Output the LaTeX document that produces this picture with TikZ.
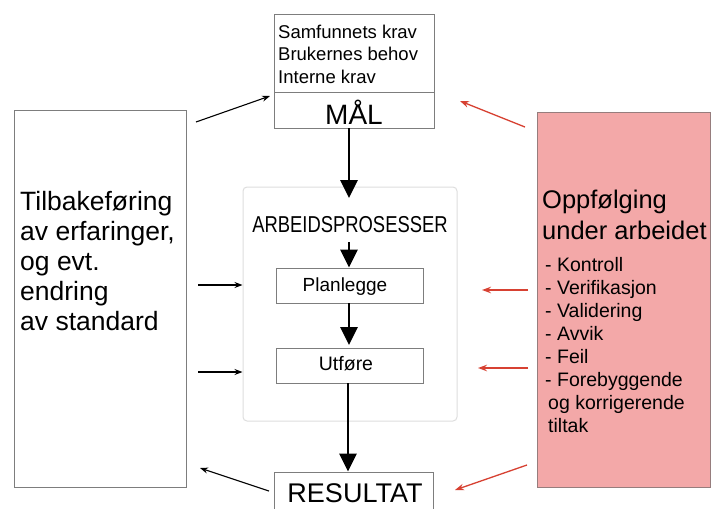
\documentclass[tikz,border=0pt]{standalone}
\usepackage{fontspec}
\setmainfont{Liberation Sans}
\usetikzlibrary{arrows.meta}
\definecolor{boxgray}{RGB}{125,125,125}
\definecolor{lightframe}{RGB}{222,222,222}
\definecolor{pinkfill}{RGB}{243,168,168}
\definecolor{pinkframe}{RGB}{150,125,125}
\definecolor{arrred}{RGB}{215,65,50}
\tikzset{
  box/.style={draw=boxgray, line width=0.9pt, inner sep=0pt},
  bigarrow/.style={line width=2.8pt, -{Triangle[length=18pt,width=17pt]}},
  thinarrow/.style={line width=1.1pt, -{Stealth[length=8pt,width=6pt]}},
  redarrow/.style={draw=arrred, line width=1.3pt, -{Stealth[length=9pt,width=6.5pt]}, arrred},
  txt/.style={inner sep=0pt, align=left}
}
\begin{document}
\begin{tikzpicture}[x=1pt,y=-1pt]
\useasboundingbox (0,0) rectangle (713,509);
\fill[white] (0,0) rectangle (713,509);

% left box
\node[box, minimum width=172pt, minimum height=377pt] (left) at (100,298.5) {};
\node[txt, anchor=north west, font=\fontsize{26.5}{30}\selectfont] (lefttxt) at (20,191)
  {Tilbakeføring\\av erfaringer,\\og evt.\\endring\\av standard};

% right box
\node[draw=pinkframe, fill=pinkfill, line width=1pt, minimum width=173pt, minimum height=375pt, inner sep=0pt] (right) at (623.5,299.5) {};
\node[txt, anchor=north west, font=\fontsize{25.5}{31}\selectfont] (righttitle) at (542,190)
  {Oppfølging\\under arbeidet};
\node[txt, anchor=north west, font=\fontsize{19.5}{23}\selectfont] (rightlist) at (545,257)
  {- Kontroll\\- Verifikasjon\\- Validering\\- Avvik\\- Feil\\- Forebyggende\\\hspace*{3pt}og korrigerende\\\hspace*{3pt}tiltak};

% top box
\node[box, minimum width=160pt, minimum height=78pt] (krav) at (354,53) {};
\node[txt, anchor=north west, font=\fontsize{18.5}{22.5}\selectfont] (kravtxt) at (278,24.5)
  {Samfunnets krav\\Brukernes behov\\Interne krav};
\node[box, minimum width=160pt, minimum height=36pt] (maal) at (354,110) {};
\node[inner sep=0pt, anchor=base, font=\fontsize{28}{30}\selectfont] (maaltxt) at (354,124) {MÅL};

% container
\node[draw=lightframe, line width=1pt, rounded corners=4pt, minimum width=214pt, minimum height=234pt, inner sep=0pt] (cont) at (350,304) {};
\node[inner sep=0pt, anchor=base, font=\fontsize{23}{25}\selectfont] (arb) at (350,232) {\scalebox{0.8}[1]{ARBEIDSPROSESSER}};
\node[box, minimum width=147pt, minimum height=35pt] (plan) at (349.5,285.5) {};
\node[inner sep=0pt, anchor=base, font=\fontsize{19}{21}\selectfont] (plantxt) at (345,291) {Planlegge};
\node[box, minimum width=147pt, minimum height=35pt] (utf) at (349.5,365.5) {};
\node[inner sep=0pt, anchor=base, font=\fontsize{19.5}{21}\selectfont] (utftxt) at (346,370) {Utføre};

% result
\node[box, minimum width=159pt, minimum height=44pt] (res) at (353.5,494) {};
\node[inner sep=0pt, anchor=base, font=\fontsize{27}{29}\selectfont] (restxt) at (355,502) {RESULTAT};

% big arrows
\draw[bigarrow] (maal.south -| 349,0) -- (349,198);
\coordinate (arbbot) at (349,242);
\draw[bigarrow] (arbbot) -- (plan.north -| arbbot);
\draw[bigarrow] (plan.south -| 349,0) -- (349,345);
\draw[bigarrow] (utf.south -| 348,0) -- (res.north -| 348,0);

% thin black arrows
\coordinate (l1s) at (196,122);
\coordinate (l1e) at (270,96);
\draw[thinarrow] (l1s) -- (l1e);
\coordinate (l2s) at (198,285);
\draw[thinarrow] (l2s) -- (cont.west |- l2s);
\coordinate (l3s) at (198,372);
\draw[thinarrow] (l3s) -- (cont.west |- l3s);
\coordinate (l4s) at (269,491);
\coordinate (l4e) at (200,468);
\draw[thinarrow] (l4s) -- (l4e);

% red arrows
\coordinate (r1s) at (525,127);
\coordinate (r1e) at (460,101);
\draw[redarrow] (r1s) -- (r1e);
\coordinate (r2s) at (528,290);
\coordinate (r2e) at (482,290);
\draw[redarrow] (r2s) -- (r2e);
\coordinate (r3s) at (528,368);
\coordinate (r3e) at (478,368);
\draw[redarrow] (r3s) -- (r3e);
\coordinate (r4s) at (527,465);
\coordinate (r4e) at (455,490);
\draw[redarrow] (r4s) -- (r4e);
\end{tikzpicture}
\end{document}
